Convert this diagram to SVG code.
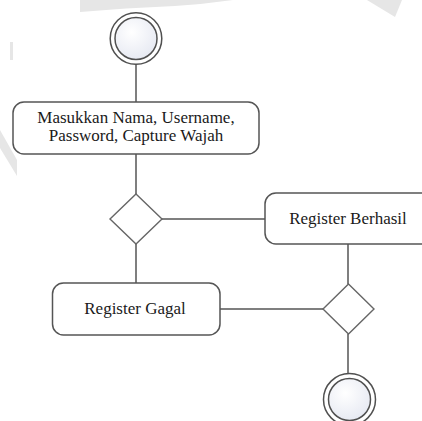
<svg xmlns="http://www.w3.org/2000/svg" width="422" height="421" viewBox="0 0 422 421">
  <defs>
    <radialGradient id="disc" cx="0.4" cy="0.35" r="0.75">
      <stop offset="0" stop-color="#ffffff"/>
      <stop offset="1" stop-color="#e4e7f1"/>
    </radialGradient>
    <style>
      .edge { stroke: #555555; stroke-width: 1.5; fill: none; }
      .act { fill: #ffffff; stroke: #555555; stroke-width: 1.5; }
      .dec { fill: #ffffff; stroke: #666666; stroke-width: 1.4; }
      .ring { fill: #ffffff; stroke: #505050; stroke-width: 1.5; }
      .core { fill: url(#disc); stroke: #505050; stroke-width: 1.5; }
      .lbl { font-size: 17px; fill: #1a1a1a; text-anchor: middle; }
      .mark { fill: #e6e6e6; }
    </style>
  </defs>

  <rect width="422" height="421" fill="#ffffff"/>

  <!-- faint background marks -->
  <path class="mark" d="M80,0 L233,0 Q205,4 175,6 Q125,8 80,12 Z"/>
  <polygon class="mark" points="367,0 402,0 395,17"/>
  <rect class="mark" x="10" y="42" width="3" height="18"/>
  <polygon class="mark" points="0,130 17,160 17,176 0,148"/>

  <!-- connectors -->
  <g id="connectors">
    <line class="edge" x1="136" y1="64" x2="136" y2="102"/>
    <line class="edge" x1="136" y1="154" x2="136" y2="194"/>
    <line class="edge" x1="162" y1="219" x2="265" y2="219"/>
    <line class="edge" x1="136" y1="244" x2="136" y2="283"/>
    <line class="edge" x1="348" y1="244" x2="348" y2="284"/>
    <line class="edge" x1="220" y1="309" x2="323" y2="309"/>
    <line class="edge" x1="348" y1="334" x2="348" y2="373"/>
  </g>

  <g font-family="'Liberation Serif', 'DejaVu Serif', serif">
    <!-- start -->
    <g id="start">
      <circle class="ring" cx="136" cy="38.5" r="25.8"/>
      <circle class="core" cx="136" cy="38.5" r="21"/>
    </g>

    <!-- input step -->
    <g id="input">
      <rect class="act" x="13" y="102" width="246" height="52" rx="11"/>
      <text class="lbl" x="136" y="123">Masukkan Nama, Username,</text>
      <text class="lbl" x="136" y="141">Password, Capture Wajah</text>
    </g>

    <!-- first decision -->
    <g id="decision1">
      <polygon class="dec" points="136,194 162,219 136,244 110,219"/>
    </g>

    <!-- success -->
    <g id="success">
      <rect class="act" x="265" y="193" width="175" height="51" rx="11"/>
      <text class="lbl" x="348" y="224">Register Berhasil</text>
    </g>

    <!-- failure -->
    <g id="failure">
      <rect class="act" x="52.5" y="283" width="167.5" height="52" rx="11"/>
      <text class="lbl" x="135" y="314">Register Gagal</text>
    </g>

    <!-- merge -->
    <g id="decision2">
      <polygon class="dec" points="348.5,284 374,309 348.5,334 323,309"/>
    </g>

    <!-- end -->
    <g id="end">
      <circle class="ring" cx="349.5" cy="399.5" r="26"/>
      <circle class="core" cx="349.5" cy="399.5" r="21"/>
    </g>
  </g>
</svg>
